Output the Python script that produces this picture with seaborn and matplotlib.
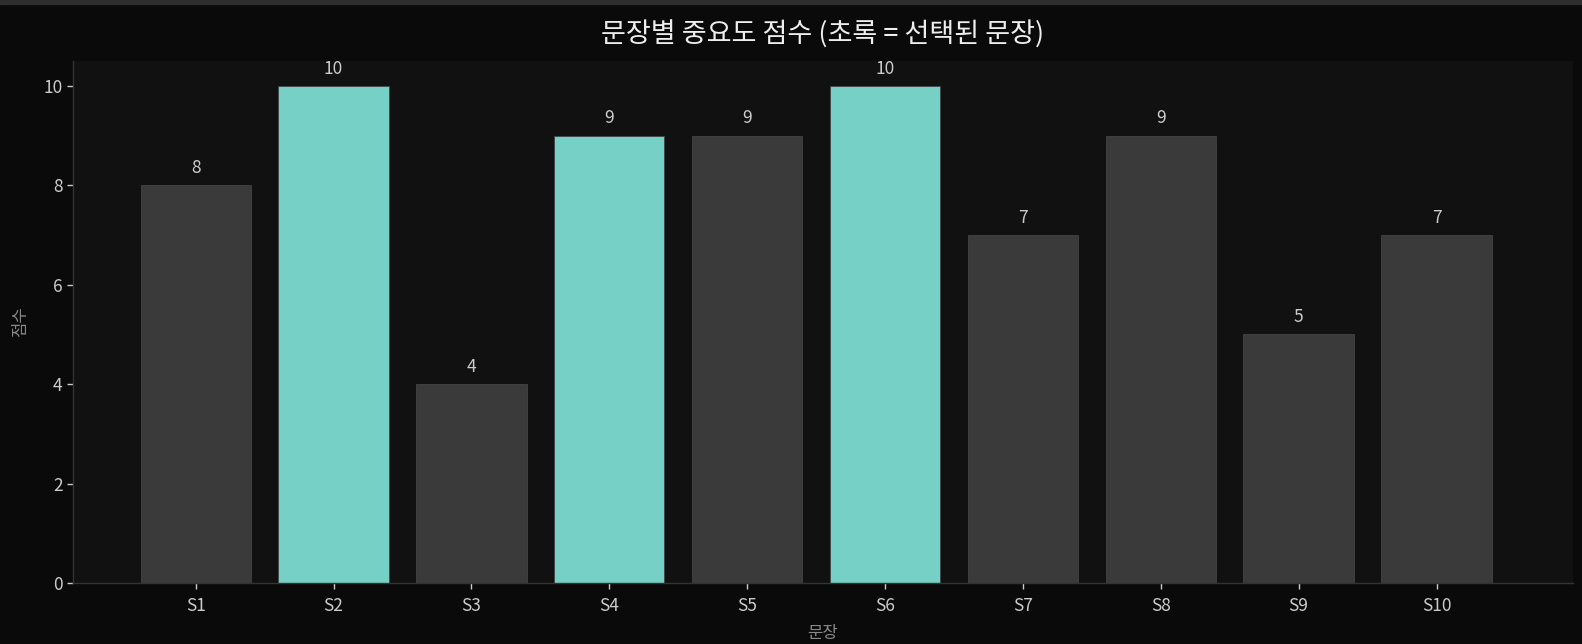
import numpy as np
import pandas as pd
import matplotlib
matplotlib.use("Agg")
import matplotlib.pyplot as plt
import seaborn as sns
from matplotlib.patches import Rectangle

# 데이터
sentences = ["S1", "S2", "S3", "S4", "S5", "S6", "S7", "S8", "S9", "S10"]
scores = [8, 10, 4, 9, 9, 10, 7, 9, 5, 7]
selected = ["S2", "S4", "S6"]

df = pd.DataFrame({
    "문장": sentences,
    "점수": scores,
    "선택": ["선택" if s in selected else "기타" for s in sentences],
})

sns.set_theme(style="dark")
plt.rcParams['font.family'] = ['Noto Sans CJK KR', 'DejaVu Sans']

fig = plt.figure(figsize=(15.82, 6.44), dpi=100, facecolor="#0a0a0a")
ax = fig.add_axes([73 / 1582, 61 / 644, 1500 / 1582, 522 / 644])
ax.set_facecolor("#111111")

sns.barplot(
    data=df, x="문장", y="점수", hue="선택",
    palette={"선택": "#76d0c6", "기타": "#3a3a3a"},
    width=0.8, dodge=False, legend=False, ax=ax,
    edgecolor="#444444", linewidth=0.6, saturation=1,
)

for c in ax.containers:
    ax.bar_label(c, labels=[f"{v:g}" if v == v and v > 0 else "" for v in c.datavalues],
                 padding=6, color="#cccccc", fontsize=12.5)

ax.set_xlim(-0.89, 9.99)
ax.set_ylim(0, 10.5)
ax.set_yticks([0, 2, 4, 6, 8, 10])

ax.set_title("문장별 중요도 점수 (초록 = 선택된 문장)", color="#eeeeee", fontsize=19.5, pad=13)
ax.set_xlabel("문장", color="#888888", fontsize=12, labelpad=7)
ax.set_ylabel("점수", color="#888888", fontsize=12, labelpad=10)

ax.tick_params(axis="both", colors="#cccccc", labelsize=12.5, length=4, width=1,
               bottom=True, left=True)
ax.tick_params(axis="x", pad=6)
for side in ["top", "right"]:
    ax.spines[side].set_visible(False)
for side in ["left", "bottom"]:
    ax.spines[side].set_color("#333333")
    ax.spines[side].set_linewidth(1)
ax.grid(False)

# 상단 회색 띠
fig.add_artist(Rectangle((0, 1 - 4 / 644), 1, 4 / 644, transform=fig.transFigure,
                         color="#2e2e2e", zorder=0))

fig.savefig("out.png", dpi=100, facecolor=fig.get_facecolor())
